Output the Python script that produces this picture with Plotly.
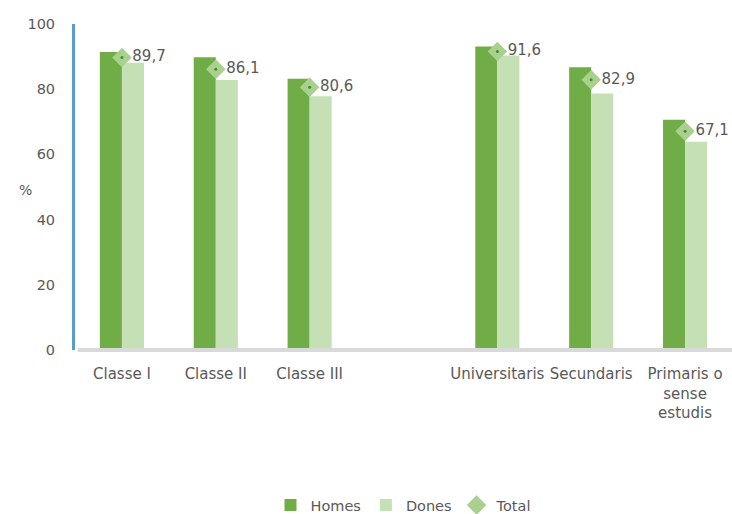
import plotly.graph_objects as go

# Percentages by social class and by education level; the empty slot separates the two groups
categories = ["Classe I", "Classe II", "Classe III", " ",
              "Universitaris", "Secundaris", "Primaris o<br>sense<br>estudis"]
homes = [91.4, 89.8, 83.2, None, 93.1, 86.7, 70.6]
dones = [88.1, 82.8, 77.8, None, 90.3, 78.7, 63.9]
total = [89.7, 86.1, 80.6, None, 91.6, 82.9, 67.1]
y_ticks = [0, 20, 40, 60, 80, 100]

FONT = "DejaVu Sans"
TXT = "#595959"
labels = [f"{v:.1f}".replace(".", ",") if v is not None else "" for v in total]

fig = go.Figure()
fig.add_trace(go.Bar(x=categories, y=homes, name="Homes",
                     marker=dict(color="#70ad47", line=dict(width=0))))
fig.add_trace(go.Bar(x=categories, y=dones, name="Dones",
                     marker=dict(color="#c5e0b4", line=dict(width=0))))
# Total: light diamond with a small dark centre dot, value written to the right
fig.add_trace(go.Scatter(x=categories, y=total, name="Total", mode="markers+text",
                         text=labels, textposition="middle right",
                         textfont=dict(family=FONT, size=15, color=TXT),
                         marker=dict(symbol="diamond", size=15, color="#a9d18e",
                                     line=dict(width=0))))
fig.add_trace(go.Scatter(x=categories, y=total, mode="markers", showlegend=False,
                         marker=dict(symbol="circle", size=3, color="#548235",
                                     line=dict(width=0))))

fig.update_layout(
    width=732, height=514,
    margin=dict(l=75, r=0, t=24, b=163.5, autoexpand=False),
    paper_bgcolor="white", plot_bgcolor="white",
    barmode="group", bargap=0.53, bargroupgap=0,
    font=dict(family=FONT, size=14, color=TXT),
    showlegend=True,
    legend=dict(orientation="h", x=0.5, xanchor="center", y=-0.476, yanchor="middle",
                font=dict(family=FONT, size=14.5, color=TXT), itemwidth=30,
                traceorder="normal"),
    xaxis=dict(type="category", showgrid=False, showline=False, ticks="",
               automargin=False, ticklabelstandoff=13,
               tickfont=dict(family=FONT, size=15, color=TXT)),
    yaxis=dict(range=[0, 100], tickvals=y_ticks, showgrid=False, zeroline=False,
               showline=True, linecolor="#5b9bd5", linewidth=3, ticks="",
               ticklabelstandoff=14, automargin=False,
               tickfont=dict(family=FONT, size=14.5, color=TXT)),
    shapes=[dict(type="line", xref="paper", yref="paper", x0=0.004, x1=1, y0=0, y1=0,
                 line=dict(color="#d9d9d9", width=4), layer="above")],
    annotations=[dict(text="%", xref="paper", yref="paper", x=-0.088, y=0.49,
                      showarrow=False, font=dict(family=FONT, size=14, color=TXT))],
)

fig.write_html("out.html")
